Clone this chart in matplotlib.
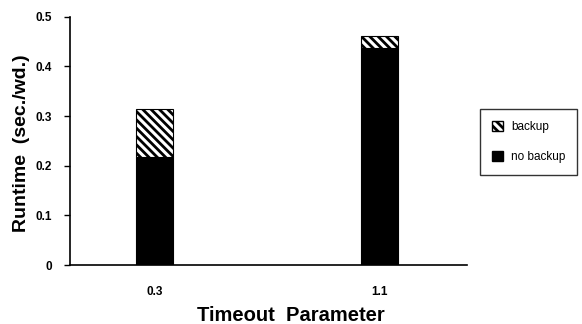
import matplotlib
matplotlib.use("Agg")
import matplotlib.pyplot as plt
from matplotlib.patches import Patch

categories = ["0.3", "1.1"]
no_backup = [0.218, 0.437]
backup = [0.096, 0.025]
yticks = [0, 0.1, 0.2, 0.3, 0.4, 0.5]
ytick_labels = ["0", "0.1", "0.2", "0.3", "0.4", "0.5"]

plt.rcParams['font.family'] = ['Liberation Sans', 'DejaVu Sans']
plt.rcParams['hatch.linewidth'] = 2.0

fig = plt.figure(figsize=(5.82, 3.24), dpi=100)
ax = fig.add_axes([0.120, 0.182, 0.682, 0.766])

x = list(range(len(categories)))
w = 0.165
ax.bar(x, no_backup, width=w, color='black', edgecolor='black', linewidth=0.8)
ax.bar(x, backup, bottom=no_backup, width=w, color='white', edgecolor='black',
       hatch='\\\\\\\\', linewidth=0.8)

ax.set_xlim(-0.378, 1.387)
ax.set_ylim(0, 0.5)
ax.set_yticks(yticks)
ax.set_yticklabels(ytick_labels, fontsize=8.5, fontweight='semibold')
ax.set_xticks(x)
ax.set_xticklabels(categories, fontsize=8.5, fontweight='semibold')
ax.tick_params(axis='x', length=0, pad=15)
ax.tick_params(axis='y', direction='out', length=4, width=1, pad=9)
for s in ['top', 'right']:
    ax.spines[s].set_visible(False)
for s in ['left', 'bottom']:
    ax.spines[s].set_linewidth(1.2)

ax.set_ylabel("Runtime  (sec./wd.)", fontsize=14, fontweight='bold')
ax.yaxis.set_label_coords(-0.10, 0.49)
ax.set_xlabel("Timeout  Parameter", fontsize=14.5, fontweight='bold')
ax.xaxis.set_label_coords(0.558, -0.165)

handles = [Patch(facecolor='white', edgecolor='black', hatch='\\\\\\\\', label='backup'),
           Patch(facecolor='black', edgecolor='black', label='no backup')]
leg = fig.legend(handles=handles, loc='upper left', bbox_to_anchor=(0.825, 0.664),
                 fontsize=8.5, frameon=True, fancybox=False, handlelength=0.9,
                 handleheight=1.0, handletextpad=0.7, labelspacing=1.5,
                 borderpad=1.0, borderaxespad=0, edgecolor='black')
leg.get_frame().set_linewidth(1.0)

fig.savefig("out.png", dpi=100)
